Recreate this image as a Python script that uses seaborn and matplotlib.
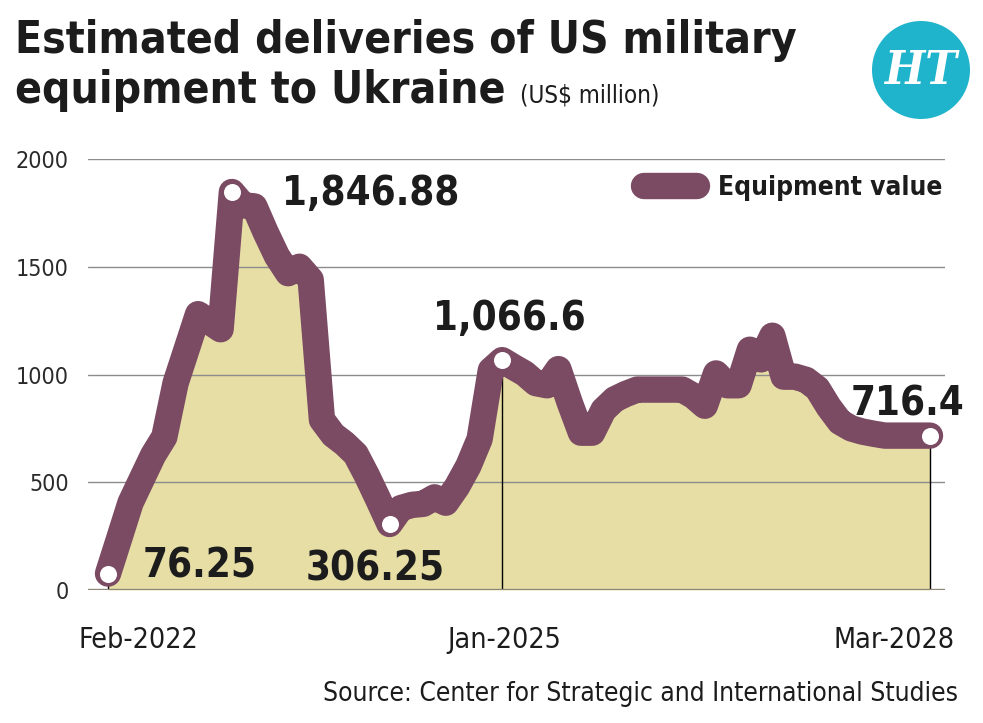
import numpy as np
import pandas as pd
import matplotlib
matplotlib.use("Agg")
import matplotlib.pyplot as plt
import matplotlib.transforms as mtrans
from matplotlib.patches import Circle
from matplotlib import font_manager
import seaborn as sns

# ---------------- data ----------------
months = pd.date_range("2022-02-01", "2028-03-01", freq="MS")
values = [76.25, 240, 405, 515, 625, 710, 960, 1120, 1280, 1245,
          1210, 1846.88, 1785, 1780, 1660, 1550, 1470, 1500, 1440, 790,
          720, 680, 630, 530, 420, 306.25, 380, 395, 400, 430,
          405, 480, 575, 700, 1020, 1066.6, 1035, 1005, 960, 950,
          1025, 870, 730, 730, 835, 885, 910, 930, 930, 930,
          930, 930, 900, 855, 1005, 950, 950, 1115, 1070, 1180,
          990, 990, 975, 935, 850, 780, 750, 735, 725, 716.4,
          716.4, 716.4, 716.4, 716.4]
series_name = "Equipment value"
tick_months = ["2022-02", "2025-01", "2028-03"]
tick_labels = ["Feb-2022", "Jan-2025", "Mar-2028"]
y_ticks = [0, 500, 1000, 1500, 2000]
hl_months = ["2022-02", "2023-01", "2024-03", "2025-01", "2028-03"]
hl_labels = ["76.25", "1,846.88", "306.25", "1,066.6", "716.4"]
title_1 = "Estimated deliveries of US military"
title_2 = "equipment to Ukraine"
unit_text = "(US$ million)"
source_text = "Source: Center for Strategic and International Studies"

df = pd.DataFrame({"month": months, "value": values})
df["idx"] = np.arange(len(df))
month_key = df["month"].dt.strftime("%Y-%m")

# ---------------- style ----------------
sns.set_style("white")
names = {f.name for f in font_manager.fontManager.ttflist}
FONT = "Liberation Sans Narrow" if "Liberation Sans Narrow" in names else "DejaVu Sans"
plt.rcParams["font.family"] = [FONT, "DejaVu Sans"]
plt.rcParams["font.stretch"] = "condensed"

LINE = "#7b4a63"
FILL = "#e6dea5"
GRID = "#8c8c8c"
BASE = "#8d877a"
TXT = "#1c1c1c"
LOGO = "#1fb4cb"
LW = 19

W, H = 983, 723
fig = plt.figure(figsize=(W / 100, H / 100), dpi=100)
fig.patch.set_facecolor("white")
R = fig.canvas.get_renderer()


def fit_size(s, target, base=20.0, **kw):
    t = fig.text(0, 0, s, fontsize=base, **kw)
    w = t.get_window_extent(R).width
    t.remove()
    return base * target / w


S_TITLE = fit_size(title_1, 782, weight="bold")
S_UNIT = fit_size(unit_text, 140)
S_SRC = fit_size(source_text, 636)
S_XL = fit_size("Feb-2022", 120)
S_LEG = fit_size(series_name, 224, weight="bold")
S_ANN = fit_size("1,846.88", 177, weight="bold")
S_YT = fit_size("2000", 53)
S_LOGO = fit_size("HT", 72, family="DejaVu Serif", weight="bold", style="italic")

ax = fig.add_axes([88 / W, 1 - 590 / H, (945 - 88) / W, (590 - 159) / H])
ppm = 11.26
ax.set_xlim(-20 / ppm, df["idx"].iloc[-1] + 15 / ppm)
ax.set_ylim(0, 2000)

# fill
ax.fill_between(df["idx"], 0, df["value"], color=FILL, lw=0, zorder=1)

# line
sns.lineplot(data=df, x="idx", y="value", color=LINE, lw=LW, ax=ax,
             label=series_name, zorder=4)
ln = ax.lines[0]
ln.set_solid_joinstyle("round")
ln.set_solid_capstyle("round")
ln.set_clip_on(False)

# grid + baseline
ax.set_yticks(y_ticks)
ax.grid(axis="y", color=GRID, lw=1)
ax.grid(axis="x", visible=False)
ax.set_axisbelow("line")
ax.axhline(0, color=BASE, lw=2.4, zorder=2)

# drop lines at labelled ticks
tick_idx = [int(df.loc[month_key == m, "idx"].iloc[0]) for m in tick_months]
tick_val = [float(df.loc[month_key == m, "value"].iloc[0]) for m in tick_months]
ax.vlines(tick_idx, 0, tick_val, color="black", lw=1, zorder=1.8)

# highlight markers
hl_idx = [int(df.loc[month_key == m, "idx"].iloc[0]) for m in hl_months]
hl_val = [float(df.loc[month_key == m, "value"].iloc[0]) for m in hl_months]
ax.scatter(hl_idx, hl_val, s=150, color="white", linewidths=0, zorder=6, clip_on=False)

# axes cosmetics
for s in ax.spines.values():
    s.set_visible(False)
ax.set_xlabel("")
ax.set_ylabel("")
ax.set_xticks(tick_idx)
ax.set_xticklabels([])
ax.tick_params(axis="x", length=10, width=1, color="black", direction="out")
ax.set_yticklabels([str(v) for v in y_ticks])
ax.tick_params(axis="y", length=0, pad=14, labelsize=S_YT, labelcolor="#2a2a2a")

# x labels
xl_trans = mtrans.blended_transform_factory(ax.transData, ax.transAxes)
x_label_y = (590 - 648) / 431
aligns = [("left", -30), ("center", 2), ("right", 25)]
for i, (lab, (ha, dx)) in enumerate(zip(tick_labels, aligns)):
    tr = mtrans.offset_copy(xl_trans, fig=fig, x=dx, y=0, units="dots")
    ax.text(tick_idx[i], x_label_y, lab, transform=tr, ha=ha, va="baseline",
            fontsize=S_XL, color=TXT)

# value annotations (offset in pixels: dx, dy of baseline)
ann_style = [("left", 35, -4), ("left", 50, -13), ("center", -14, -56),
             ("center", 7, 30), ("center", -22, 20)]
for xi, yv, lab, (ha, dx, dy) in zip(hl_idx, hl_val, hl_labels, ann_style):
    ax.annotate(lab, xy=(xi, yv), xytext=(dx, dy), textcoords="offset pixels",
                ha=ha, va="baseline", fontsize=S_ANN, fontweight="bold", color=TXT,
                zorder=7, annotation_clip=False)

# legend
leg = ax.legend(loc="center right", bbox_to_anchor=(942 / W, 1 - 188 / H),
                bbox_transform=fig.transFigure, frameon=False, handlelength=2.0,
                handletextpad=0.8, borderpad=0, borderaxespad=0,
                prop={"weight": "bold", "size": S_LEG})
lh = leg.get_lines()[0]
lh.set_linewidth(LW)
lh.set_solid_capstyle("round")
for t in leg.get_texts():
    t.set_color(TXT)

# titles
t1 = fig.text(15 / W, 1 - 53 / H, title_1, fontsize=S_TITLE, fontweight="bold",
              color=TXT, ha="left", va="baseline")
t2 = fig.text(15 / W, 1 - 103 / H, title_2, fontsize=S_TITLE, fontweight="bold",
              color=TXT, ha="left", va="baseline")
bb2 = t2.get_window_extent(R)
fig.text((bb2.x1 + 14) / W, 1 - 103 / H, unit_text, fontsize=S_UNIT,
         color=TXT, ha="left", va="baseline")

# source
fig.text(958 / W, 1 - 701 / H, source_text, fontsize=S_SRC, color=TXT,
         ha="right", va="baseline")

# logo
circ = Circle((921, H - 70), 49, transform=mtrans.IdentityTransform(),
              facecolor=LOGO, edgecolor="none")
fig.add_artist(circ)
fig.text(921 / W, 1 - 71 / H, "HT", fontsize=S_LOGO, color="white",
         family="DejaVu Serif", fontweight="bold", fontstyle="italic",
         ha="center", va="center")

fig.savefig("out.png", dpi=100, facecolor="white")
